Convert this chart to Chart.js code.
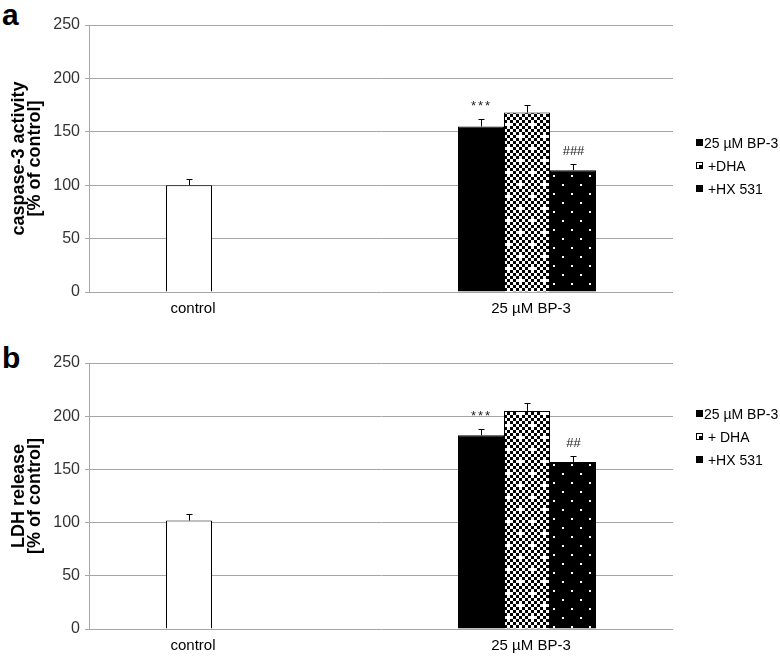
<!DOCTYPE html>
<html>
<head>
<meta charset="utf-8">
<script src="https://cdn.jsdelivr.net/npm/chart.js@4"></script>
<style>
  body { margin: 0; background: #fff; font-family: 'Liberation Sans', Arial, sans-serif; }
  #page { position: relative; width: 780px; height: 658px; overflow: hidden; }
  .panel { position: absolute; left: 0; }
  .letter { position: absolute; left: 2px; font-size: 30px; line-height: 30px; font-weight: bold; color: #000; }
  .legend { position: absolute; left: 696px; font-size: 14px; color: #000; }
  .legend div { display: flex; align-items: center; height: 23px; white-space: pre; }
  .box { width: 7px; height: 7px; background: #000; margin-right: 1px; box-sizing: border-box; position: relative; }
  .box.dha { background: #fff; border: 1px solid #000; }
  .box.dha::after { content: ''; position: absolute; right: 0; bottom: 0; width: 3px; height: 3px; background: #000; }
</style>
</head>
<body>
<div id="page">
  <div class="letter" style="top:0px">a</div>
  <canvas id="chartA" class="panel" style="top:0px" width="780" height="325"></canvas>
  <div class="legend" id="legendA" style="top:131px"></div>

  <div class="letter" style="top:343px">b</div>
  <canvas id="chartB" class="panel" style="top:325px" width="780" height="333"></canvas>
  <div class="legend" id="legendB" style="top:402px"></div>
</div>
<script>
  const categories = ['control', '25 µM BP-3'];
  const yTicks = { min: 0, max: 250, step: 50 };

  // panel a: caspase-3 activity
  const caspaseLegend = ['25 µM BP-3', ' +DHA', ' +HX 531'];
  const caspaseBP3 = [100, 155];
  const caspaseDHA = [null, 168];
  const caspaseHX = [null, 114];
  const caspaseErrBP3 = [6, 7];
  const caspaseErrDHA = [null, 7];
  const caspaseErrHX = [null, 6];
  const caspaseMarksBP3 = ['', '***'];
  const caspaseMarksDHA = ['', ''];
  const caspaseMarksHX = ['', '###'];

  // panel b: LDH release
  const ldhLegend = ['25 µM BP-3', ' + DHA', ' +HX 531'];
  const ldhBP3 = [102, 182];
  const ldhDHA = [null, 205];
  const ldhHX = [null, 157];
  const ldhErrBP3 = [6, 6];
  const ldhErrDHA = [null, 7];
  const ldhErrHX = [null, 6];
  const ldhMarksBP3 = ['', '***'];
  const ldhMarksDHA = ['', ''];
  const ldhMarksHX = ['', '##'];

  const fontFamily = "'Liberation Sans', Arial, sans-serif";
  Chart.defaults.font.family = fontFamily;

  function checkerPattern() {
    const c = document.createElement('canvas');
    c.width = 24; c.height = 24;
    const g = c.getContext('2d');
    g.fillStyle = '#fff';
    g.fillRect(0, 0, 24, 24);
    g.fillStyle = '#000';
    for (let y = 0; y < 8; y++) {
      for (let x = 0; x < 8; x++) {
        if ((x + y) % 2 === 0) g.fillRect(x * 3, y * 3, 3, 3);
      }
    }
    // white plus shapes, staggered
    g.fillStyle = '#fff';
    g.fillRect(3, 0, 3, 9); g.fillRect(0, 3, 9, 3);
    g.fillRect(15, 12, 3, 9); g.fillRect(12, 15, 9, 3);
    return g.createPattern(c, 'repeat');
  }

  function dotPattern() {
    const c = document.createElement('canvas');
    c.width = 18; c.height = 18;
    const g = c.getContext('2d');
    g.fillStyle = '#000';
    g.fillRect(0, 0, 18, 18);
    g.fillStyle = '#fff';
    g.fillRect(4, 4, 2, 2);
    g.fillRect(13, 13, 2, 2);
    return g.createPattern(c, 'repeat');
  }

  // error bars, significance marks and category labels
  const extrasPlugin = {
    id: 'extras',
    afterDatasetsDraw(chart, args, opts) {
      const ctx = chart.ctx;
      const yScale = chart.scales.y;
      ctx.save();
      ctx.strokeStyle = '#000';
      ctx.lineWidth = 1;
      ctx.fillStyle = '#222';
      ctx.font = '13px ' + fontFamily;
      ctx.textAlign = 'center';
      ctx.textBaseline = 'middle';
      chart.data.datasets.forEach((ds, i) => {
        const meta = chart.getDatasetMeta(i);
        meta.data.forEach((bar, j) => {
          if (ds.data[j] == null) return;
          const x = Math.round(bar.x) + 0.5;
          const top = Math.round(yScale.getPixelForValue(ds.data[j] + opts.errors[i][j])) + 0.5;
          ctx.beginPath();
          ctx.moveTo(x, bar.y);
          ctx.lineTo(x, top);
          ctx.moveTo(x - 3, top);
          ctx.lineTo(x + 3, top);
          ctx.stroke();
          const mark = opts.marks[i][j];
          if (mark) {
            ctx.letterSpacing = mark[0] === '*' ? '2px' : '0px';
            ctx.fillText(mark, x, top - 13);
          }
        });
      });

      ctx.letterSpacing = '0px';
      ctx.fillStyle = '#000';
      ctx.font = '15px ' + fontFamily;
      chart.data.labels.forEach((label, j) => {
        const xs = [];
        chart.data.datasets.forEach((ds, i) => {
          if (ds.data[j] != null) xs.push(chart.getDatasetMeta(i).data[j].x);
        });
        const cx = xs.reduce((a, b) => a + b, 0) / xs.length;
        ctx.fillText(label, cx + 4, chart.chartArea.bottom + 17);
      });
      ctx.restore();
    }
  };

  function buildLegend(id, labels, kinds) {
    const el = document.getElementById(id);
    labels.forEach((text, i) => {
      const row = document.createElement('div');
      const box = document.createElement('span');
      box.className = 'box ' + kinds[i];
      const span = document.createElement('span');
      span.textContent = text;
      row.appendChild(box);
      row.appendChild(span);
      el.appendChild(row);
    });
  }

  function barPanel(canvasId, yTitle, main, dha, hx, errors, marks, padTop, padBottom) {
    const chartData = {
      labels: categories,
      datasets: [
        {
          label: '25 µM BP-3',
          data: main,
          backgroundColor: (c) => (c.dataIndex === 0 ? '#fff' : '#000'),
          borderColor: '#000',
          borderWidth: 1,
        },
        {
          label: '+DHA',
          data: dha,
          backgroundColor: checkerPattern(),
          borderColor: '#000',
          borderWidth: 1,
        },
        {
          label: '+HX 531',
          data: hx,
          backgroundColor: dotPattern(),
          borderColor: '#000',
          borderWidth: 1,
        },
      ],
    };

    const chartConfig = {
      type: 'bar',
      data: chartData,
      options: {
        responsive: false,
        animation: false,
        layout: { padding: { top: padTop, bottom: padBottom, left: 0, right: 107 } },
        datasets: { bar: { barPercentage: 1, categoryPercentage: 0.4726 } },
        scales: {
          x: { display: false },
          y: {
            min: yTicks.min,
            max: yTicks.max,
            ticks: { stepSize: yTicks.step, color: '#333', font: { size: 16 }, padding: 5 },
            grid: { color: '#a6a6a6', tickLength: 4 },
            border: { color: '#a6a6a6' },
            title: {
              display: true,
              text: yTitle,
              color: '#000',
              font: { size: 18, weight: 'bold', lineHeight: 0.89 },
              padding: { top: 11, bottom: 0 },
            },
            afterFit(scale) { scale.width = 89; },
          },
        },
        plugins: {
          legend: { display: false },
          tooltip: { enabled: false },
          extras: { errors: errors, marks: marks },
        },
      },
      plugins: [extrasPlugin],
    };
    return new Chart(document.getElementById(canvasId), chartConfig);
  }

  barPanel('chartA', ['caspase-3 activity', '[% of control]'],
    caspaseBP3, caspaseDHA, caspaseHX,
    [caspaseErrBP3, caspaseErrDHA, caspaseErrHX],
    [caspaseMarksBP3, caspaseMarksDHA, caspaseMarksHX], 25, 33);
  buildLegend('legendA', caspaseLegend, ['', 'dha', '']);

  barPanel('chartB', ['LDH release', '[% of control]'],
    ldhBP3, ldhDHA, ldhHX,
    [ldhErrBP3, ldhErrDHA, ldhErrHX],
    [ldhMarksBP3, ldhMarksDHA, ldhMarksHX], 38, 29);
  buildLegend('legendB', ldhLegend, ['', 'dha', '']);
</script>
</body>
</html>
